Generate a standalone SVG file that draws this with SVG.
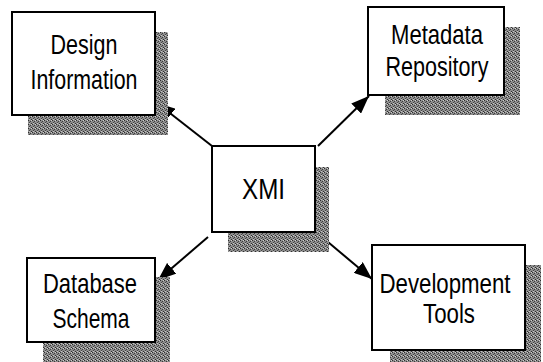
<svg xmlns="http://www.w3.org/2000/svg" width="543" height="362" viewBox="0 0 543 362">
  <defs>
    <!-- halftone-like grey fill for drop shadows -->
    <pattern id="halftone" width="4" height="4" patternUnits="userSpaceOnUse">
      <rect width="4" height="4" fill="#8c8c8c"/>
      <rect x="0" y="0" width="1" height="1" fill="#2e2e2e"/>
      <rect x="2" y="1" width="1" height="1" fill="#3c3c3c"/>
      <rect x="1" y="2" width="1" height="1" fill="#444"/>
      <rect x="3" y="3" width="1" height="1" fill="#2e2e2e"/>
      <rect x="3" y="0" width="1" height="1" fill="#cfcfcf"/>
      <rect x="1" y="3" width="1" height="1" fill="#c4c4c4"/>
    </pattern>
    <marker id="arrow" markerUnits="userSpaceOnUse" markerWidth="20" markerHeight="14" refX="18" refY="7" orient="auto">
      <path d="M0,0 L18,7 L0,14 Z" fill="#000"/>
    </marker>
  </defs>
  <style>
    .shadow { fill: url(#halftone); }
    .box { fill: #fff; stroke: #000; stroke-width: 2; }
    .label { font-family: "Liberation Sans", Arial, sans-serif; font-size: 27.5px; fill: #000; text-anchor: middle; }
    .edge { stroke: #000; stroke-width: 2; fill: none; marker-end: url(#arrow); }
  </style>

  <rect width="543" height="362" fill="#fff"/>

  <!-- connectors -->
  <g id="connectors">
    <line class="edge" x1="212" y1="146" x2="157" y2="103"/>
    <line class="edge" x1="318" y1="146" x2="369" y2="96"/>
    <line class="edge" x1="208" y1="237" x2="158" y2="280"/>
    <line class="edge" x1="322" y1="237" x2="372" y2="279"/>
  </g>

  <g id="design-information">
    <rect class="shadow" x="28" y="32" width="140" height="103"/>
    <rect class="box" x="12" y="12" width="143" height="103"/>
    <text class="label" x="84" y="54" textLength="67" lengthAdjust="spacingAndGlyphs">Design</text>
    <text class="label" x="84" y="89" textLength="107" lengthAdjust="spacingAndGlyphs">Information</text>
  </g>

  <g id="metadata-repository">
    <rect class="shadow" x="385" y="27" width="135" height="88"/>
    <rect class="box" x="368" y="7" width="136" height="88"/>
    <text class="label" x="437" y="44" textLength="92" lengthAdjust="spacingAndGlyphs">Metadata</text>
    <text class="label" x="437" y="76" textLength="103" lengthAdjust="spacingAndGlyphs">Repository</text>
  </g>

  <g id="xmi">
    <rect class="shadow" x="228" y="167" width="101" height="85"/>
    <rect class="box" x="212" y="146" width="103" height="86"/>
    <text class="label" x="263.5" y="199" style="font-size:30px" textLength="43" lengthAdjust="spacingAndGlyphs">XMI</text>
  </g>

  <g id="database-schema">
    <rect class="shadow" x="43" y="277" width="127" height="85"/>
    <rect class="box" x="27" y="258" width="128" height="84"/>
    <text class="label" x="90" y="293" textLength="94" lengthAdjust="spacingAndGlyphs">Database</text>
    <text class="label" x="91" y="328" textLength="77" lengthAdjust="spacingAndGlyphs">Schema</text>
  </g>

  <g id="development-tools">
    <rect class="shadow" x="390" y="265" width="151" height="97"/>
    <rect class="box" x="372" y="245" width="153" height="105"/>
    <text class="label" x="445" y="293" textLength="131" lengthAdjust="spacingAndGlyphs">Development</text>
    <text class="label" x="449" y="323" textLength="52" lengthAdjust="spacingAndGlyphs">Tools</text>
  </g>
</svg>
